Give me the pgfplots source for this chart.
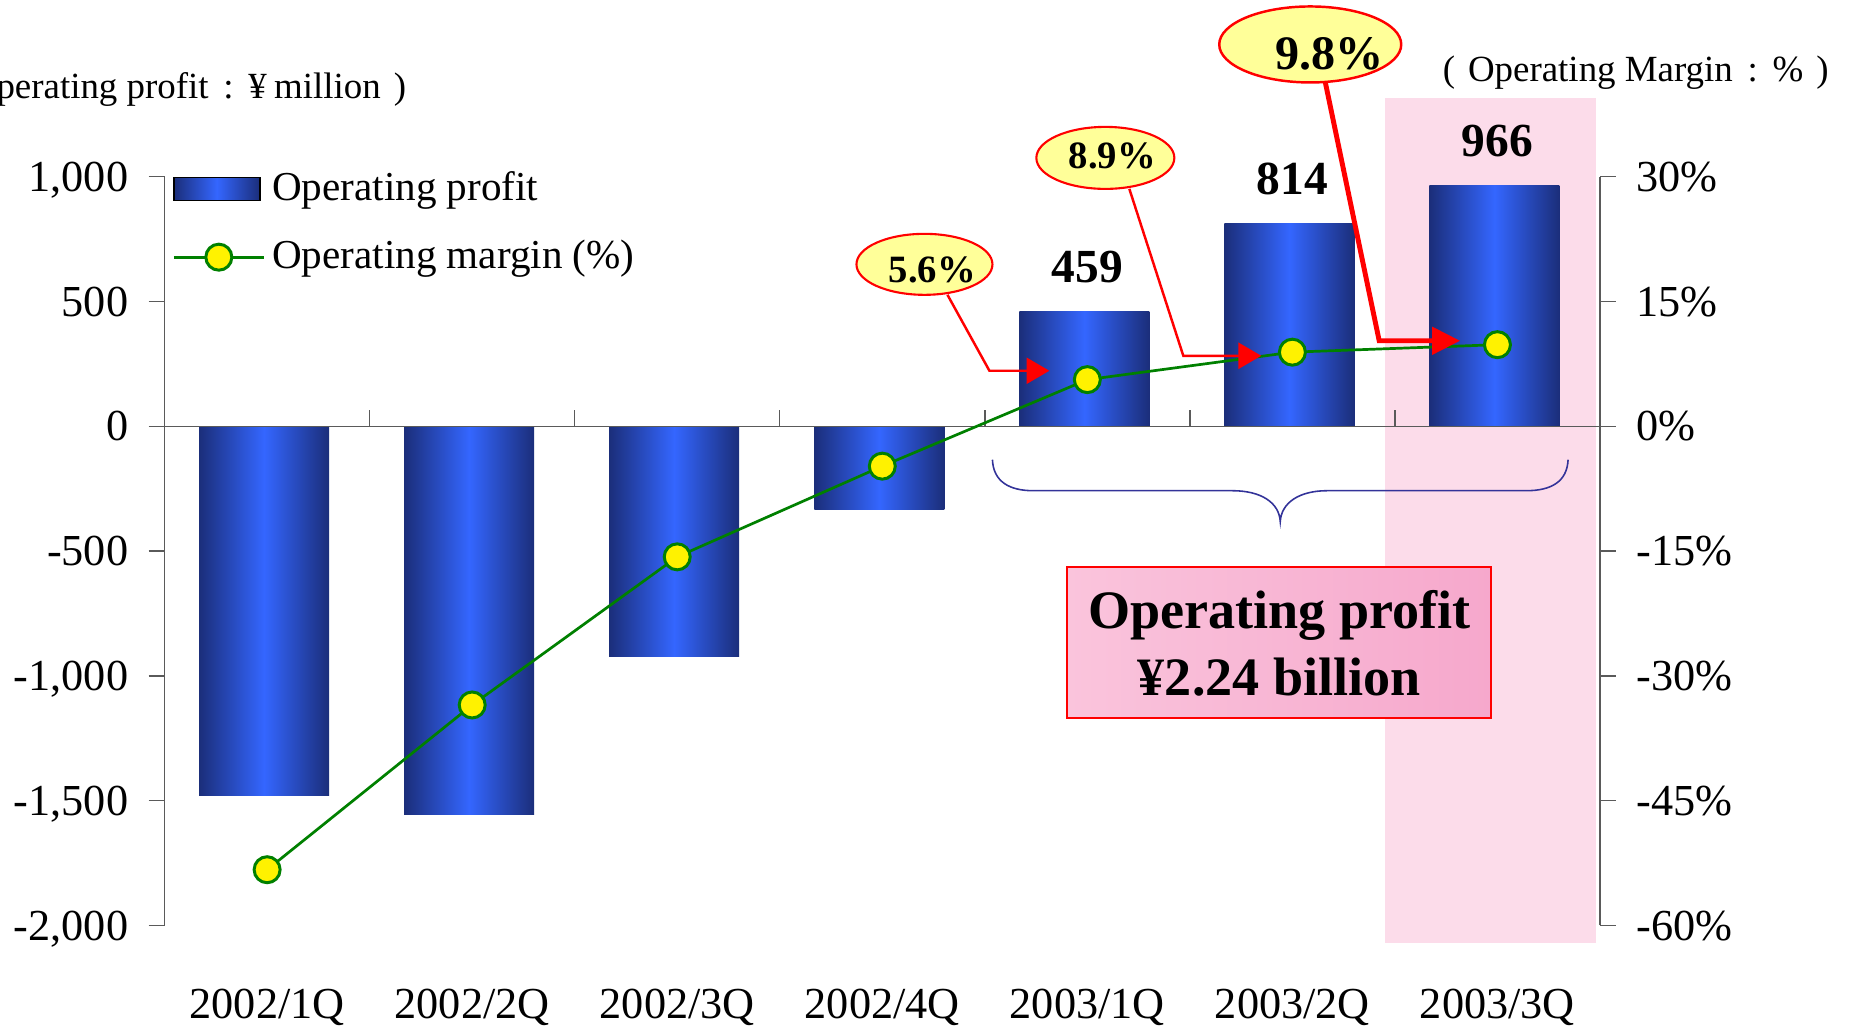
\documentclass[border=0pt]{standalone}
\usepackage{fontspec}
\setmainfont{Liberation Serif}
\usepackage{pgfplots}
\pgfplotsset{compat=1.18}
\usetikzlibrary{arrows.meta}

\definecolor{barDark}{RGB}{27,46,122}
\definecolor{barLight}{RGB}{52,102,255}
\definecolor{lineGreen}{RGB}{0,128,0}
\definecolor{bandPink}{RGB}{252,220,234}
\definecolor{boxPinkL}{RGB}{250,196,220}
\definecolor{boxPinkR}{RGB}{246,168,204}
\definecolor{calloutYellow}{RGB}{255,255,153}
\definecolor{braceBlue}{RGB}{51,51,153}
\definecolor{axisGray}{RGB}{90,90,90}

\newcommand\tickfont{\fontsize{12.6}{15}\selectfont}
\newcommand\legfont{\fontsize{11.7}{14}\selectfont}
\newcommand\unitfont{\fontsize{10.5}{12}\selectfont}
\newcommand\valfont{\fontsize{13.5}{16}\selectfont\bfseries}
\newcommand\callfont{\fontsize{11}{13}\selectfont\bfseries}
\newcommand\bigcallfont{\fontsize{13.7}{16}\selectfont\bfseries}
\newcommand\boxfont{\fontsize{15.4}{18}\selectfont\bfseries}

\pgfplotsset{
  barstyle/.style={ybar, bar width=1.30cm, bar shift=-0.03cm, draw=none,
    left color=barDark, right color=barDark, middle color=barLight},
  barlegend/.style={legend image code/.code={
    \shade[left color=barDark, right color=barDark, middle color=barLight]
      (0cm,-0.115cm) rectangle (0.86cm,0.115cm);}},
  linelegend/.style={legend image code/.code={
    \draw[mark repeat=2, mark phase=2, ##1]
      plot coordinates {(0cm,0cm) (0.45cm,0cm) (0.9cm,0cm)};}},
}

\begin{document}
\begin{tikzpicture}
% banda rosa detrás de 2003/3Q (coordenadas en px de la imagen)
\begin{scope}[x=0.01cm,y=-0.01cm,shift={(0,10.28cm)}]
  \fill[bandPink] (1386,98) rectangle (1597,944);
\end{scope}

% eje izquierdo: beneficio operativo
\begin{axis}[
  at={(1.646cm,1.025cm)}, anchor=south west,
  width=14.354cm, height=7.489cm, scale only axis,
  xmin=-0.5, xmax=6.5, ymin=-2000, ymax=1000,
  axis y line*=left, axis x line*=bottom,
  x axis line style={draw=none},
  y axis line style={-, draw=axisGray, line width=0.4pt},
  xtick={0,...,6},
  xticklabels={2002/1Q,2002/2Q,2002/3Q,2002/4Q,2003/1Q,2003/2Q,2003/3Q},
  major x tick style={draw=none},
  xticklabel style={font=\tickfont, anchor=base, yshift=-0.77cm},
  ytick={-2000,-1500,-1000,-500,0,500,1000},
  yticklabels={{-2,000},{-1,500},{-1,000},{-500},{0},{500},{1,000}},
  tick align=outside, major tick length=0.16cm,
  major y tick style={draw=axisGray, line width=0.4pt},
  yticklabel style={font=\tickfont, anchor=base east, yshift=-4.2pt, xshift=-0.08cm},
  clip=false,
]
% una serie por barra para que cada barra lleve su propio degradado
\addplot[barstyle] coordinates {(0,-1480)};
\addplot[barstyle] coordinates {(1,-1555)};
\addplot[barstyle] coordinates {(2,-923)};
\addplot[barstyle] coordinates {(3,-332)};
\addplot[barstyle] coordinates {(4,459)};
\addplot[barstyle] coordinates {(5,814)};
\addplot[barstyle] coordinates {(6,966)};
% línea del cero con marcas entre categorías
\draw[axisGray, line width=0.4pt] (axis cs:-0.5,0) -- (axis cs:6.5,0);
\pgfplotsinvokeforeach{0.5,1.5,2.5,3.5,4.5,5.5}{
  \draw[axisGray, line width=0.4pt] (axis cs:#1,0) -- (axis cs:#1,64);
}
\node[font=\valfont, anchor=base, yshift=0.29cm] at (axis cs:4,459) {459};
\node[font=\valfont, anchor=base, yshift=0.29cm] at (axis cs:5,814) {814};
\node[font=\valfont, anchor=base, yshift=0.29cm] at (axis cs:6,966) {966};
\end{axis}

% eje derecho: margen operativo
\begin{axis}[
  at={(1.646cm,1.025cm)}, anchor=south west,
  width=14.354cm, height=7.489cm, scale only axis,
  xmin=-0.5, xmax=6.5, ymin=-60, ymax=30,
  axis y line*=right, axis x line=none,
  y axis line style={-, draw=axisGray, line width=0.4pt},
  ytick={-60,-45,-30,-15,0,15,30},
  yticklabels={{-60\%},{-45\%},{-30\%},{-15\%},{0\%},{15\%},{30\%}},
  tick align=outside, major tick length=0.16cm,
  major y tick style={draw=axisGray, line width=0.4pt},
  yticklabel style={font=\tickfont, anchor=base west, yshift=-4.2pt, xshift=0.08cm},
  clip=false,
  legend cell align=left,
  legend style={at={(axis description cs:0.005,1.017)}, anchor=north west,
    draw=none, fill=none, inner sep=0pt, font=\legfont, row sep=5.8pt,
    nodes={inner sep=2pt}},
]
\addlegendimage{barlegend}
\addlegendentry{Operating profit}
\addplot[lineGreen, line width=0.77pt, mark=*, mark size=3.7pt,
  mark options={fill=yellow, draw=lineGreen, line width=0.85pt}, linelegend]
  coordinates {(0,-53.3) (1,-33.5) (2,-15.7) (3,-4.8) (4,5.6) (5,8.9) (6,9.8)};
\addlegendentry{Operating margin (\%)}
\end{axis}

% anotaciones (coordenadas en px de la imagen)
\begin{scope}[x=0.01cm,y=-0.01cm,shift={(0,10.28cm)}]
  % llave
  \draw[braceBlue, line width=0.45pt]
    (993,460) .. controls (994,482) and (1010,491) .. (1034,491) -- (1233,491)
    .. controls (1262,491) and (1280,503) .. (1281,522)
    .. controls (1282,503) and (1300,491) .. (1328,491) -- (1527,491)
    .. controls (1552,491) and (1568,482) .. (1569,460);
  % recuadro
  \draw[red, line width=0.6pt, left color=boxPinkL, right color=boxPinkR] (1068,567) rectangle (1492,718);
  \node[font=\boxfont] at (1280,616) {Operating profit};
  \node[font=\boxfont] at (1280,678) {¥2.24 billion};
  % globos
  \draw[red, line width=0.7pt, -{Triangle[length=6.5pt,width=7.4pt]}]
    (948,295) -- (990,371) -- (1050,371);
  \draw[red, line width=0.6pt, fill=calloutYellow] (925,264.5) ellipse [x radius=0.68cm, y radius=0.305cm];
  \node[font=\callfont] at (933,270) {5.6\%};
  \draw[red, line width=0.7pt, -{Triangle[length=6.5pt,width=7.4pt]}]
    (1130,189) -- (1184,356) -- (1262,356);
  \draw[red, line width=0.6pt, fill=calloutYellow] (1106,158) ellipse [x radius=0.69cm, y radius=0.31cm];
  \node[font=\callfont] at (1113,156) {8.9\%};
  \draw[red, line width=1.4pt, -{Triangle[length=8pt,width=7.7pt]}]
    (1326,82) -- (1380,341) -- (1461,341);
  \draw[red, line width=0.7pt, fill=calloutYellow] (1311,44.5) ellipse [x radius=0.91cm, y radius=0.38cm];
  \node[font=\bigcallfont] at (1330,54) {9.8\%};
  % unidades
  \node[font=\unitfont, anchor=base east, inner sep=0pt] at (407,99)
    {(\hspace{.35em}Operating profit\hspace{.4em}:\hspace{.4em}¥\hspace{.2em}million\hspace{.35em})};
  \node[font=\unitfont, anchor=base west, inner sep=0pt] at (1443,82)
    {(\hspace{.35em}Operating Margin\hspace{.4em}:\hspace{.4em}\%\hspace{.35em})};
\end{scope}
\pgfresetboundingbox
\path[use as bounding box] (0,0) rectangle (18.55cm,10.28cm);
\end{tikzpicture}
\end{document}
